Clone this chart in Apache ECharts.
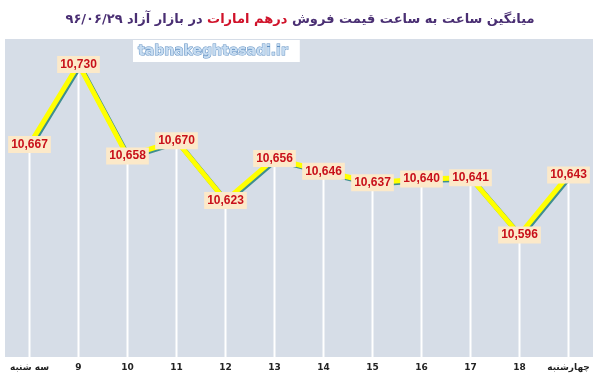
<!DOCTYPE html>
<html><head><meta charset="utf-8">
<script src="https://cdn.jsdelivr.net/npm/echarts@6/dist/echarts.min.js"></script>
<style>html,body{margin:0;padding:0;background:#fff}#c{width:600px;height:382px}</style>
</head><body><div id="c"></div>
<script>
const categories = ['سه شنبه','9','10','11','12','13','14','15','16','17','18','چهارشنبه'];
const prices = [10667, 10730, 10658, 10670, 10623, 10656, 10646, 10637, 10640, 10641, 10596, 10643];
const titleParts = ['۹۶/۰۶/۲۹', 'در بازار آزاد', 'درهم امارات', 'میانگین ساعت به ساعت قیمت فروش'];
const watermark = 'tabnakeghtesadi.ir';

const chart = echarts.init(document.getElementById('c'), null, {renderer:'canvas'});
chart.setOption({
  animation: false,
  backgroundColor: '#ffffff',
  title: {
    text: '{a|' + titleParts[0] + ' ' + titleParts[1] + ' }{r|' + titleParts[2] + '}{a| ' + titleParts[3] + '}',
    left: 'center', top: 8,
    textStyle: {
      rich: {
        a: {fontFamily: 'DejaVu Sans', fontWeight: 'bold', fontSize: 13, color: '#4a2f73'},
        r: {fontFamily: 'DejaVu Sans', fontWeight: 'bold', fontSize: 13, color: '#d0122a'}
      }
    }
  },
  graphic: [{
    type: 'text', left: 133, top: 40, z: 10,
    style: {
      text: watermark, fill: '#c6dcf1', stroke: '#5f8fc2', lineWidth: 1,
      font: 'bold 14px "DejaVu Sans"', backgroundColor: '#ffffff', padding: [4, 12, 4, 5]
    }
  }],
  grid: {left: 5, right: 7, top: 39, bottom: 25, show: true, backgroundColor: '#d6dde7', borderWidth: 0},
  xAxis: {
    type: 'category', data: categories, boundaryGap: true,
    axisLine: {show: false}, axisTick: {show: false}, splitLine: {show: false},
    axisLabel: {color: '#222', fontSize: 9, fontWeight: 'bold', fontFamily: 'DejaVu Sans', margin: 6, interval: 0}
  },
  yAxis: {
    type: 'value', min: 10500, max: 10750, show: false, splitLine: {show: false}
  },
  series: [{
    type: 'bar', data: prices, barWidth: 2, silent: true,
    itemStyle: {color: '#ffffff'}, z: 1
  }, {
    type: 'line', data: prices, z: 3,
    symbol: 'circle', symbolSize: 1, showSymbol: true,
    itemStyle: {color: 'rgba(0,0,0,0)'},
    lineStyle: {color: '#ffff00', width: 5, shadowColor: '#3f8f8f', shadowOffsetX: 1.5, shadowOffsetY: 1.5, shadowBlur: 0},
    label: {
      show: true, position: 'inside',
      formatter: p => p.value.toLocaleString('en-US'),
      color: '#c8101a', fontWeight: 'bold', fontSize: 12, fontFamily: '"Liberation Sans Narrow", "Liberation Sans", Arial',
      backgroundColor: '#fce9c9', padding: [3, 3, 2, 3]
    }
  }]
});
</script></body></html>
